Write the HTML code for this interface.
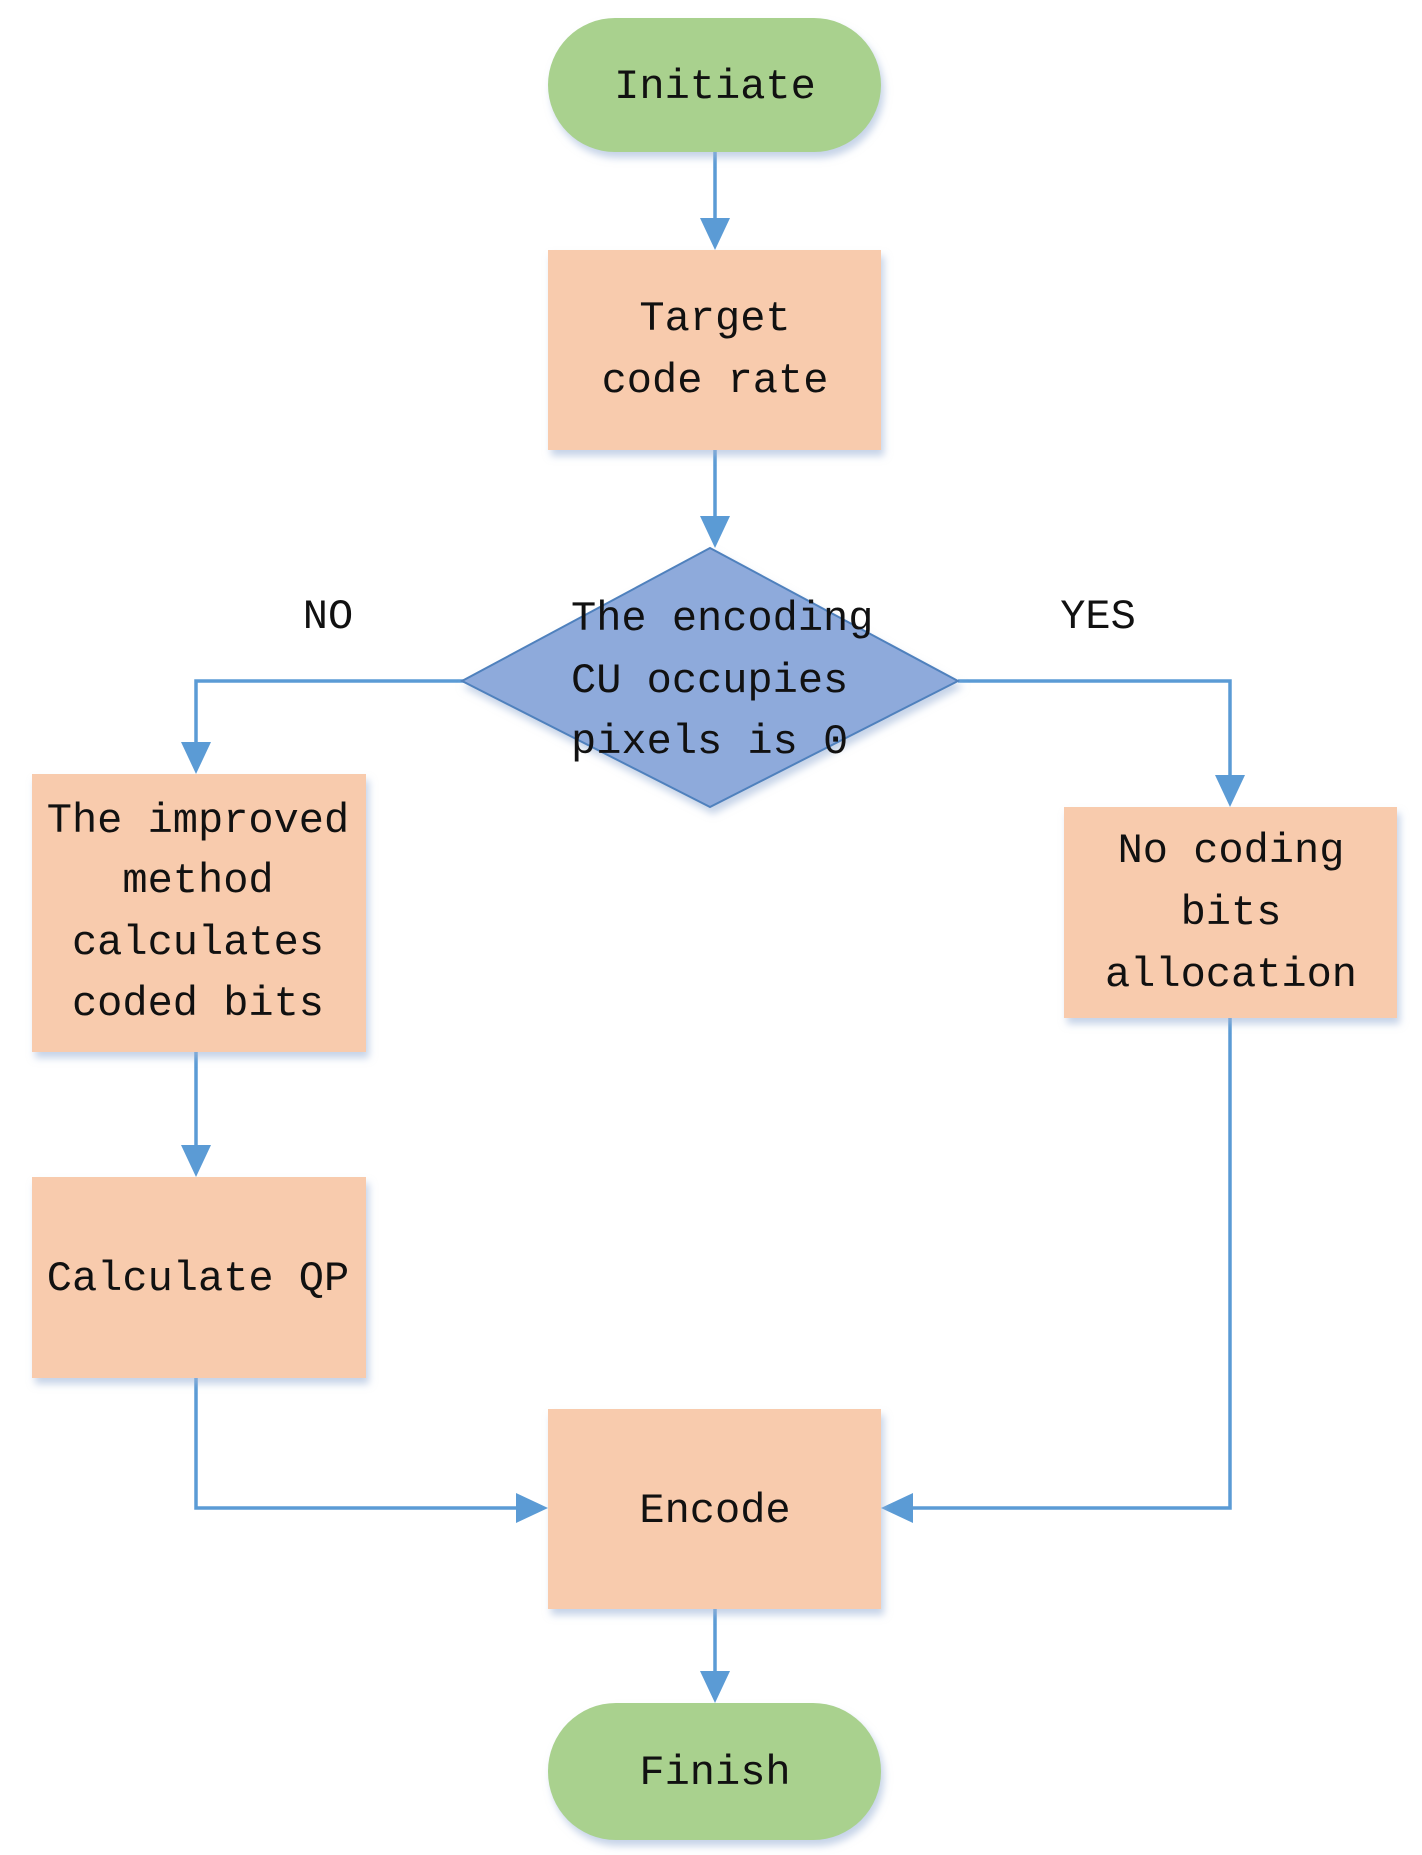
<!DOCTYPE html>
<html><head><meta charset="utf-8"><style>
html,body{margin:0;padding:0;background:#fff;}
svg{display:block;}
text{font-family:"Liberation Mono","DejaVu Sans Mono",monospace;font-size:42px;fill:#111;}
</style></head><body>
<svg width="1422" height="1855" viewBox="0 0 1422 1855" xmlns="http://www.w3.org/2000/svg">
<defs>
<filter id="sh" x="-10%" y="-10%" width="125%" height="130%">
<feDropShadow dx="3" dy="6" stdDeviation="4" flood-color="#9fb6d8" flood-opacity="0.6"/>
</filter>
<marker id="ar" markerWidth="10" markerHeight="10" refX="9" refY="5" orient="auto" markerUnits="userSpaceOnUse" viewBox="0 0 10 10">
</marker>
</defs>
<g fill="none" stroke="#5b9bd5" stroke-width="3.5">
<line x1="715" y1="150" x2="715" y2="222"/>
<line x1="715" y1="448" x2="715" y2="520"/>
<polyline points="464,681 196,681 196,748"/>
<polyline points="958,681 1230,681 1230,780"/>
<line x1="196" y1="1050" x2="196" y2="1150"/>
<polyline points="196,1378 196,1508 520,1508"/>
<polyline points="1230,1018 1230,1508 910,1508"/>
<line x1="715" y1="1607" x2="715" y2="1676"/>
</g>
<g fill="#5b9bd5">
<polygon points="700,218 730,218 715,250"/>
<polygon points="700,516 730,516 715,548"/>
<polygon points="181,742 211,742 196,774"/>
<polygon points="1215,775 1245,775 1230,807"/>
<polygon points="181,1145 211,1145 196,1177"/>
<polygon points="516,1493 516,1523 548,1508"/>
<polygon points="913,1493 913,1523 881,1508"/>
<polygon points="700,1671 730,1671 715,1703"/>
</g>
<g filter="url(#sh)">
<rect x="548" y="18" width="333" height="134" rx="67" fill="#a9d18e"/>
<rect x="548" y="250" width="333" height="200" fill="#f8cbad"/>
<polygon points="710,548 958,681 710,807 462,681" fill="#8eaadb" stroke="#4f81bd" stroke-width="2"/>
<rect x="32" y="774" width="334" height="278" fill="#f8cbad"/>
<rect x="1064" y="807" width="333" height="211" fill="#f8cbad"/>
<rect x="32" y="1177" width="334" height="201" fill="#f8cbad"/>
<rect x="548" y="1409" width="333" height="200" fill="#f8cbad"/>
<rect x="548" y="1703" width="333" height="137" rx="68" fill="#a9d18e"/>
</g>
<g text-anchor="middle">
<text x="715" y="98">Initiate</text>
<text x="715" y="330">Target</text>
<text x="715" y="392">code rate</text>
<text x="198" y="832">The improved</text>
<text x="198" y="892">method</text>
<text x="198" y="954">calculates</text>
<text x="198" y="1015">coded bits</text>
<text x="1231" y="862">No coding</text>
<text x="1231" y="924">bits</text>
<text x="1231" y="986">allocation</text>
<text x="198" y="1290">Calculate QP</text>
<text x="715" y="1522">Encode</text>
<text x="715" y="1784">Finish</text>
<text x="328" y="628">NO</text>
<text x="1098" y="628">YES</text>
</g>
<text x="571" y="630">The encoding</text>
<text x="571" y="692">CU occupies</text>
<text x="571" y="753">pixels is 0</text>
</svg>
</body></html>
